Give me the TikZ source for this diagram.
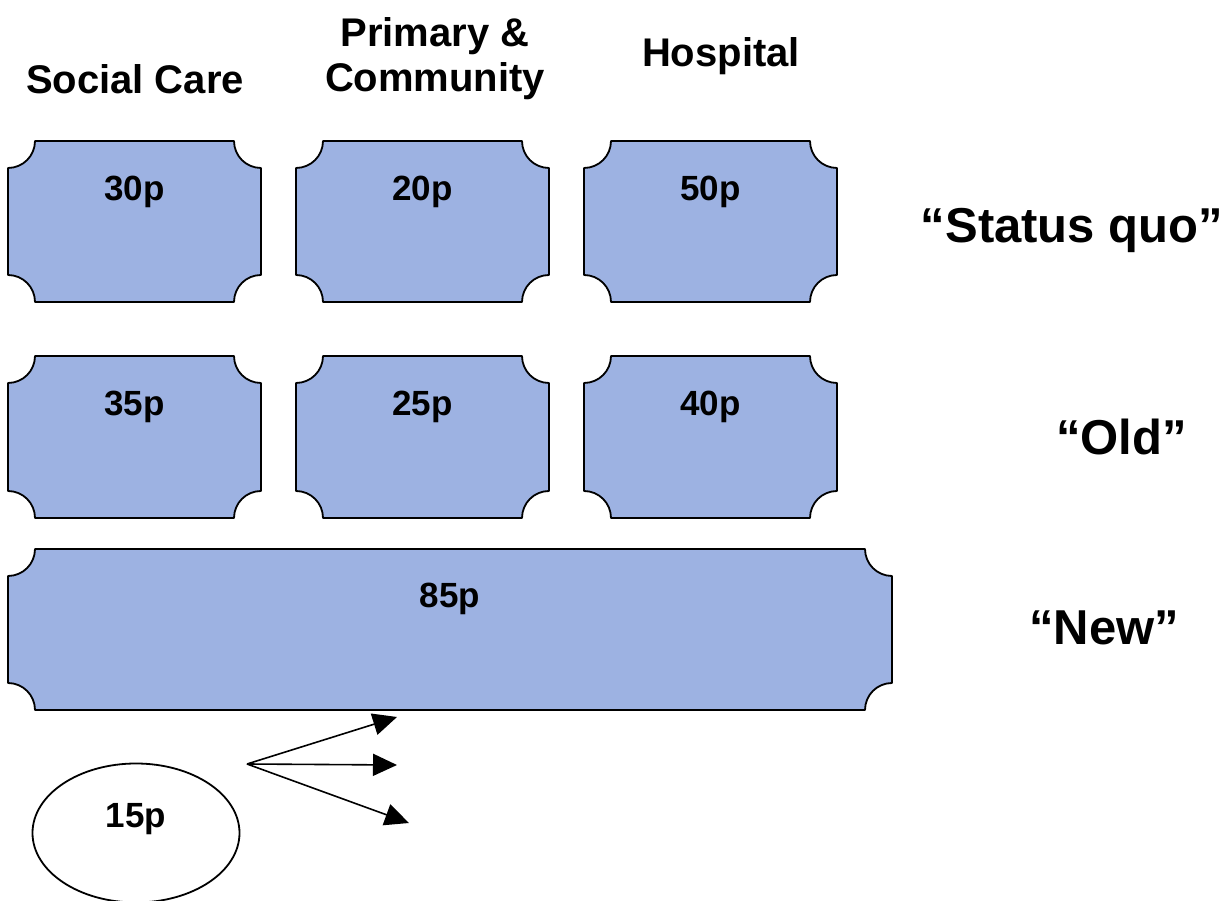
\documentclass[tikz,border=0pt]{standalone}
\usepackage{fontspec}
\setmainfont{Liberation Sans}
\usetikzlibrary{arrows.meta,shapes.geometric}
\definecolor{plaquefill}{RGB}{157,178,226}
\tikzset{
  plaquebox/.style={draw=none, fill=none, inner sep=0pt, outer sep=0pt, rectangle},
  plaqueline/.style={draw=black, line width=1.8pt, fill=plaquefill, line join=round},
  numtext/.style={font=\fontsize{35}{40}\selectfont\bfseries, anchor=base, inner sep=0pt},
  headtext/.style={font=\fontsize{40}{46}\selectfont\bfseries, anchor=base, inner sep=0pt},
  rowtext/.style={font=\fontsize{49}{54}\selectfont\bfseries, anchor=base, inner sep=0pt},
  ovalnode/.style={draw=black, ellipse, line width=1.8pt, inner sep=0pt, fill=white},
  arr/.style={-{Triangle[length=24pt,width=22pt]}, line width=1.6pt},
}
\newcommand\plaqueat[1]{%
  \path[plaqueline] ([xshift=27pt]#1.north west) -- ([xshift=-27pt]#1.north east)
    arc[start angle=180,end angle=270,radius=27pt] -- ([yshift=27pt]#1.south east)
    arc[start angle=90,end angle=180,radius=27pt] -- ([xshift=27pt]#1.south west)
    arc[start angle=0,end angle=90,radius=27pt] -- ([yshift=-27pt]#1.north west)
    arc[start angle=270,end angle=360,radius=27pt] -- cycle;}
\begin{document}
\begin{tikzpicture}[x=1pt,y=1pt]
\useasboundingbox (0,0) rectangle (1226,900);
\clip (0,0) rectangle (1226,900);
% headings
\node[headtext] (hsc) at (135,806) {Social Care};
\node[headtext] (hpc1) at (435,853) {Primary \&};
\node[headtext] (hpc2) at (435,808) {Community};
\node[headtext] (hho) at (721,833) {Hospital};
% plaque frames
\node[plaquebox, minimum width=253pt, minimum height=161pt] (b11) at (134.5,678.5) {};
\node[plaquebox, minimum width=253pt, minimum height=161pt] (b12) at (422.5,678.5) {};
\node[plaquebox, minimum width=253pt, minimum height=161pt] (b13) at (710.5,678.5) {};
\node[plaquebox, minimum width=253pt, minimum height=162pt] (b21) at (134.5,463) {};
\node[plaquebox, minimum width=253pt, minimum height=162pt] (b22) at (422.5,463) {};
\node[plaquebox, minimum width=253pt, minimum height=162pt] (b23) at (710.5,463) {};
\node[plaquebox, minimum width=884pt, minimum height=161pt] (b31) at (450,270.5) {};
\plaqueat{b11}\plaqueat{b12}\plaqueat{b13}
\plaqueat{b21}\plaqueat{b22}\plaqueat{b23}
\plaqueat{b31}
% numbers
\node[numtext] (n11) at (134.5,699) {30p};
\node[numtext] (n12) at (422.5,699) {20p};
\node[numtext] (n13) at (710.5,699) {50p};
\node[numtext] (n21) at (134.5,484) {35p};
\node[numtext] (n22) at (422.5,484) {25p};
\node[numtext] (n23) at (710.5,484) {40p};
\node[numtext] (n31) at (450,292) {85p};
% row labels
\node[rowtext] (lsq) at (1072,657) {``Status quo''};
\node[rowtext] (lold) at (1121.5,445) {``Old''};
\node[rowtext] (lnew) at (1104,255) {``New''};
% oval
\node[ovalnode, minimum width=207pt, minimum height=139pt] (oval) at (136,67) {};
\node[numtext] (n15) at (136,73) {15p};
% arrows
\coordinate (src) at (247,136);
\coordinate (t1) at (397,183);
\coordinate (t2) at (397,135);
\coordinate (t3) at (409,77);
\draw[arr] (src) -- (t1);
\draw[arr] (src) -- (t2);
\draw[arr] (src) -- (t3);
\end{tikzpicture}
\end{document}
